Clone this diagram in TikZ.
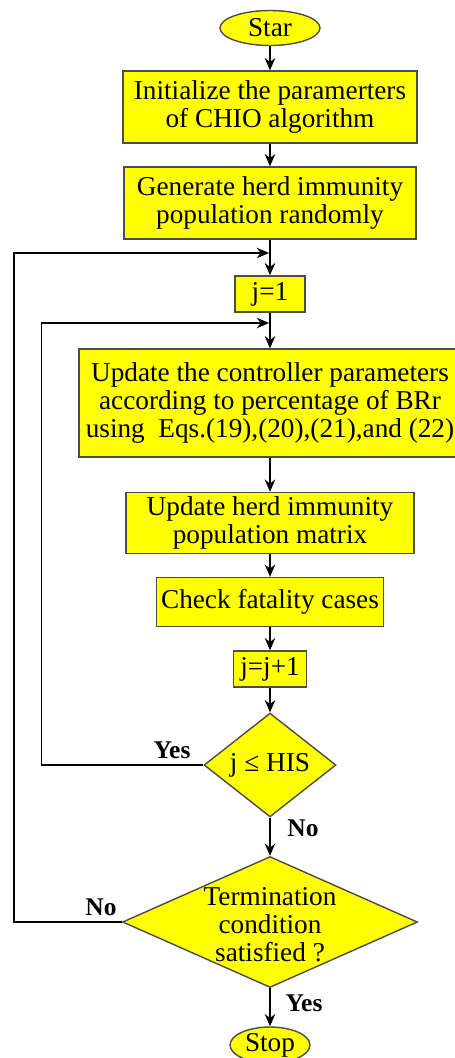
\documentclass[tikz,border=0pt]{standalone}
\usepackage{fontspec}
\setmainfont{Liberation Serif}
\usetikzlibrary{shapes.geometric, arrows.meta, positioning}
\definecolor{boxyellow}{RGB}{255,255,0}

\begin{document}
\begin{tikzpicture}[x=0.02cm, y=-0.02cm, font=\fontsize{15.5}{16}\selectfont]
    \tikzstyle{block}=[rectangle, draw=black!70, line width=0.8pt, fill=boxyellow, align=center, inner sep=1pt]
    \tikzstyle{terminal}=[ellipse, draw=black!70, line width=0.8pt, fill=boxyellow, inner sep=0pt]
    \tikzstyle{decision}=[diamond, draw=black!70, line width=0.8pt, fill=boxyellow, inner sep=0pt, align=center]
    \tikzstyle{arrow}=[draw, line width=0.8pt, -{Stealth[length=7pt, width=6pt]}]
    \tikzstyle{tag}=[font=\fontsize{14.5}{16}\selectfont\bfseries]
    \useasboundingbox (0,0) rectangle (454,1058);
    \node [terminal, minimum width=2cm, minimum height=0.7cm] (start) at (270,28) {Star};
    \node [block, minimum width=5.88cm, minimum height=1.44cm] (init) at (270,107) {Initialize the paramerters\\of CHIO algorithm};
    \node [block, minimum width=5.84cm, minimum height=1.44cm] (gen) at (270,203) {Generate herd immunity\\population randomly};
    \node [block, minimum width=1.4cm, minimum height=0.72cm] (jone) at (270,294) {j=1};
    \node [block, minimum width=7.64cm, minimum height=2.16cm] (upd) at (270,403) {Update the controller parameters\\according to percentage of BRr\\using\ \ Eqs.(19),(20),(21),and (22)};
    \node [block, minimum width=5.76cm, minimum height=1.22cm] (herd) at (270,523) {Update herd immunity\\population matrix};
    \node [block, minimum width=4.54cm, minimum height=0.98cm] (check) at (270,602) {Check fatality cases};
    \node [block, minimum width=1.46cm, minimum height=0.72cm] (jinc) at (270,669) {j=j+1};
    \node [decision, minimum width=2.64cm, minimum height=1.9cm] (dec1) at (270,765) {j ≤ HIS};
    \node [decision, minimum width=5.9cm, minimum height=2.62cm,
      label={[align=center, yshift=-0.06cm]center:{Termination\\condition\\satisfied ?}}] (dec2) at (270,922) {};
    \node [terminal, minimum width=1.6cm, minimum height=0.72cm] (stop) at (270,1045) {Stop};
    \coordinate (in1) at (269,323);
    \coordinate (in2) at (269,253);
    \path [arrow] (start) -- (init);
    \path [arrow] (init) -- (gen);
    \path [arrow] (gen) -- (jone);
    \path [arrow] (jone) -- (upd);
    \path [arrow] (upd) -- (herd);
    \path [arrow] (herd) -- (check);
    \path [arrow] (check) -- (jinc);
    \path [arrow] (jinc) -- (dec1);
    \path [arrow] (dec1) -- (dec2);
    \path [arrow] (dec2) -- (stop);
    \path [arrow] (dec1.west) -- ++(-162,0) |- (in1);
    \path [arrow] (dec2.west) -- ++(-108,0) |- (in2);
    \node [tag] (yes1) at (172,750) {Yes};
    \node [tag] (no1) at (303,828) {No};
    \node [tag] (no2) at (101,907) {No};
    \node [tag] (yes2) at (304,1003) {Yes};
\end{tikzpicture}
\end{document}
